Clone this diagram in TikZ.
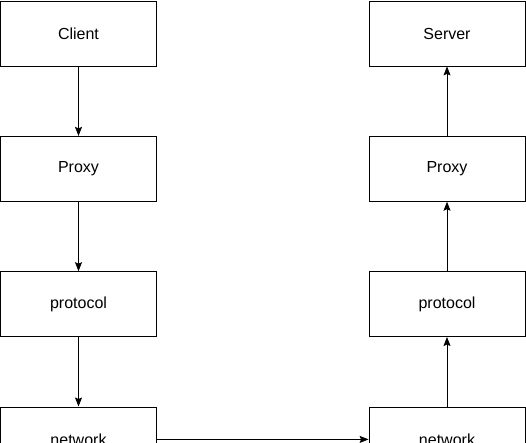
\documentclass[tikz,border=0pt]{standalone}
\usepackage{fontspec}
\setmainfont{Liberation Sans}
\usetikzlibrary{arrows.meta,positioning}

\begin{document}
\begin{tikzpicture}[->,>={Stealth[length=9pt,width=7pt,inset=1.5pt]},x=1pt,y=1pt,
  line width=0.8pt,node distance=69.5pt and 212pt]
  \tikzstyle{layer}=[draw, minimum width=156pt, minimum height=65pt,
    inner sep=0pt, font=\fontsize{16}{19}\selectfont]

  \useasboundingbox (0,0) rectangle (526,-442);
  \clip (0,0) rectangle (526,-442);

  \node[layer] (Cl)  at (78.5,-33.5)  {Client};
  \node[layer] (PxL) [below=of Cl]  {Proxy};
  \node[layer] (PrL) [below=of PxL] {protocol};
  \node[layer] (NwL) [below=of PrL] {network};

  \node[layer] (Sv)  at (447,-33.5)   {Server};
  \node[layer] (PxR) [below=of Sv]  {Proxy};
  \node[layer] (PrR) [below=of PxR] {protocol};
  \node[layer] (NwR) [below=of PrR] {network};

  \path
  (Cl)  edge (PxL)
  (PxL) edge (PrL)
  (PrL) edge (NwL)
  (NwL) edge (NwR)
  (NwR) edge (PrR)
  (PrR) edge (PxR)
  (PxR) edge (Sv)
  ;
\end{tikzpicture}
\end{document}
